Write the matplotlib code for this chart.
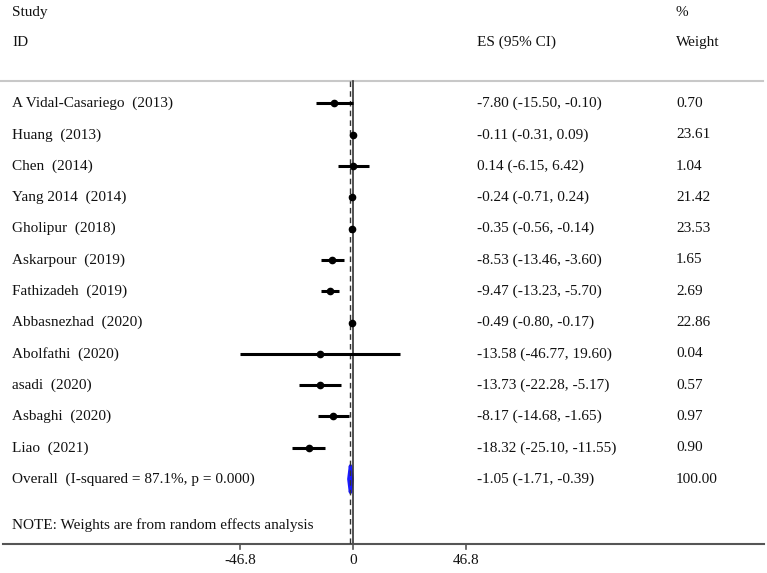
import matplotlib
matplotlib.use("Agg")
import matplotlib.pyplot as plt
from matplotlib.patches import Polygon
import matplotlib.transforms as mtransforms

studies = ["A Vidal-Casariego  (2013)", "Huang  (2013)", "Chen  (2014)", "Yang 2014  (2014)",
           "Gholipur  (2018)", "Askarpour  (2019)", "Fathizadeh  (2019)", "Abbasnezhad  (2020)",
           "Abolfathi  (2020)", "asadi  (2020)", "Asbaghi  (2020)", "Liao  (2021)"]
es = [-7.80, -0.11, 0.14, -0.24, -0.35, -8.53, -9.47, -0.49, -13.58, -13.73, -8.17, -18.32]
lo = [-15.50, -0.31, -6.15, -0.71, -0.56, -13.46, -13.23, -0.80, -46.77, -22.28, -14.68, -25.10]
hi = [-0.10, 0.09, 6.42, 0.24, -0.14, -3.60, -5.70, -0.17, 19.60, -5.17, -1.65, -11.55]
weights = [0.70, 23.61, 1.04, 21.42, 23.53, 1.65, 2.69, 22.86, 0.04, 0.57, 0.97, 0.90]
overall_label = "Overall  (I-squared = 87.1%, p = 0.000)"
overall = (-1.05, -1.71, -0.39)
overall_weight = 100.00
note = "NOTE: Weights are from random effects analysis"
xticks = [-46.8, 0, 46.8]
xticklabels = ["-46.8", "0", "46.8"]

plt.rcParams['font.family'] = ['Liberation Serif', 'DejaVu Serif']
FS = 11

fig = plt.figure(figsize=(7.67, 5.73), dpi=100)
ax = fig.add_axes([0, 0, 1, 1])
ax.set_axis_off()

px_per_unit = 113 / 46.8
x0 = 353
ax.set_xlim(-x0 / px_per_unit, (767 - x0) / px_per_unit)
row_px = 31.3
y_first = 103.5
ax.set_ylim((573 - y_first) / row_px, -y_first / row_px)

trans = mtransforms.blended_transform_factory(ax.transAxes, ax.transData)

def fx(px):
    return px / 767

def txt(px, y, s, **kw):
    ax.text(fx(px), y, s, ha="left", va="center", fontsize=FS, transform=trans,
            color="#111111", **kw)

top_line = -0.73
axis_y = 14.06
ax.plot([0, fx(763)], [top_line, top_line], transform=trans, color="#c8c8c8", lw=1.5)
ax.plot([fx(3), fx(764)], [axis_y, axis_y], transform=trans, color="#555555", lw=1.5)

ax.plot([0, 0], [top_line, axis_y], color="#333333", lw=1.2)
ax.plot([overall[0], overall[0]], [top_line, axis_y], color="#333333", lw=1.0, ls=(0, (4, 3)))

for i, (e, l, h) in enumerate(zip(es, lo, hi)):
    ax.plot([l, h], [i, i], color="black", lw=2.2, solid_capstyle="butt")
    ax.plot([e], [i], "o", color="black", ms=4.5)

n = len(studies)
oe, ol, oh = overall
dh = 0.42
ax.add_patch(Polygon([[ol, n], [oe, n - dh], [oh, n], [oe, n + dh]], closed=True,
                     facecolor="#1a1aff", edgecolor="#1a1aff", lw=2.5, joinstyle="round"))

for t, lab in zip(xticks, xticklabels):
    ax.plot([t, t], [axis_y, axis_y + 0.18], color="#555555", lw=1.2)
    ax.text(t, axis_y + 0.55, lab, ha="center", va="center", fontsize=FS, color="#111111")

txt(12, -2.91, "Study")
txt(12, -1.95, "ID")
txt(477, -1.95, "ES (95% CI)")
txt(676, -2.91, "%")
txt(676, -1.95, "Weight")

for i in range(n):
    txt(12, i, studies[i])
    txt(477, i, f"{es[i]:.2f} ({lo[i]:.2f}, {hi[i]:.2f})")
    txt(676, i, f"{weights[i]:.2f}")

txt(12, n, overall_label)
txt(477, n, f"{oe:.2f} ({ol:.2f}, {oh:.2f})")
txt(676, n, f"{overall_weight:.2f}")
txt(12, 13.48, note)

fig.savefig("out.png", dpi=100)
